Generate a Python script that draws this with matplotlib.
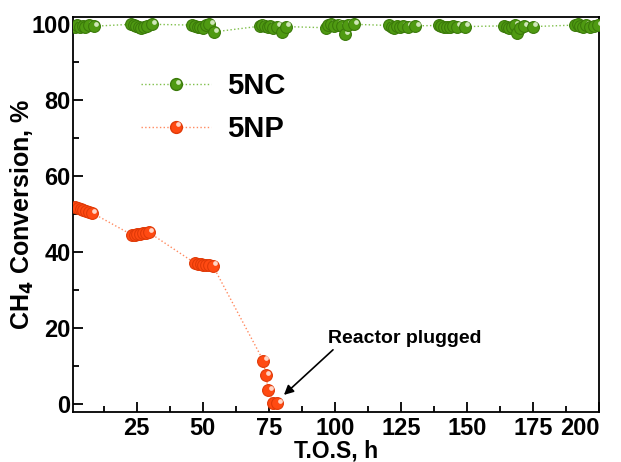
import matplotlib
matplotlib.use("Agg")
import matplotlib.pyplot as plt
from matplotlib.lines import Line2D
from matplotlib.legend_handler import HandlerTuple, HandlerLine2D
import matplotlib.transforms as mtransforms

plt.rcParams['font.family'] = ['Liberation Sans', 'DejaVu Sans']
plt.rcParams['font.weight'] = 'bold'

# 5NC time on stream (h) and CH4 conversion (%)
nc_tos = [1.5, 2.5, 3.5, 4.5, 5.5, 7.0, 8.8,
          22.8, 23.8, 24.8, 25.8, 26.8, 27.8, 29.0, 30.8,
          46.0, 47.0, 48.0, 49.0, 50.0, 51.2, 52.5, 54.2,
          71.5, 72.5, 73.5, 74.5, 75.5, 76.5, 78.0, 80.0, 81.5,
          96.5, 97.5, 98.5, 99.5, 101.0, 102.5, 103.7, 105.0, 107.3,
          120.4, 121.4, 122.4, 123.4, 124.5, 125.8, 127.5, 130.4,
          139.3, 140.3, 141.3, 142.3, 143.4, 144.6, 146.0, 149.3,
          164.0, 165.0, 166.0, 167.0, 168.0, 168.8, 170.0, 171.5, 174.8,
          190.8, 191.8, 192.8, 193.8, 195.0, 196.5, 198.0, 199.5]
nc_conv = [99.3, 99.7, 99.1, 99.5, 99.3, 99.6, 99.4,
           99.9, 99.7, 99.4, 99.2, 99.0, 99.2, 99.5, 99.9,
           99.7, 99.4, 99.1, 99.3, 99.0, 99.6, 100.0, 97.9,
           99.4, 99.8, 99.5, 99.2, 99.4, 99.0, 99.3, 98.0, 99.3,
           99.0, 99.6, 99.9, 99.4, 99.8, 99.5, 97.4, 99.8, 99.9,
           99.6, 99.3, 99.0, 99.4, 99.2, 99.5, 99.3, 99.5,
           99.6, 99.4, 99.3, 99.2, 99.3, 99.4, 99.3, 99.3,
           99.5, 99.2, 98.9, 99.3, 99.6, 97.6, 99.0, 99.4, 99.3,
           99.7, 99.9, 99.4, 99.1, 99.6, 99.3, 99.5, 99.7]

# 5NP time on stream (h) and CH4 conversion (%)
np_tos = [1.8, 2.8, 3.8, 4.8, 5.8, 7.0, 8.1,
          23.2, 24.2, 25.2, 26.2, 27.2, 28.4, 29.5,
          47.2, 48.2, 49.2, 50.2, 51.2, 52.4, 53.8,
          72.9, 73.8, 74.8, 76.7, 78.2]
np_conv = [51.9, 51.6, 51.3, 51.0, 50.8, 50.5, 50.3,
           44.5, 44.6, 44.7, 44.8, 44.9, 45.0, 45.2,
           37.0, 36.9, 36.8, 36.7, 36.6, 36.5, 36.4,
           11.4, 7.6, 3.7, 0.2, 0.2]

x_ticks = [25, 50, 75, 100, 125, 150, 175, 200]
y_ticks = [0, 20, 40, 60, 80, 100]

fig = plt.figure(figsize=(6.21, 4.62), dpi=100)
ax = fig.add_axes([0.118, 0.109, 0.847, 0.854])

MS = 8.5
HI = 3.4
OFF = 1.6  # highlight offset, points


def spheres(xs, ys, face, edge, hi, z0):
    # base ball plus small off-centre highlight, drawn point by point
    off = mtransforms.offset_copy(ax.transData, fig=fig, x=OFF, y=OFF, units='points')
    for i, (x, y) in enumerate(zip(xs, ys)):
        ax.plot(x, y, 'o', ms=MS, mfc=face, mec=edge, mew=0.8, zorder=z0 + 2 * i)
        ax.plot(x, y, 'o', ms=HI, mfc=hi, mec='none', alpha=0.85,
                transform=off, zorder=z0 + 2 * i + 1)


class HighlightHandler(HandlerLine2D):
    def create_artists(self, legend, orig_handle, xdescent, ydescent,
                       width, height, fontsize, trans):
        arts = super().create_artists(legend, orig_handle, xdescent, ydescent,
                                      width, height, fontsize, trans)
        shift = mtransforms.ScaledTranslation(OFF / 72, OFF / 72, legend.figure.dpi_scale_trans)
        for a in arts:
            a.set_transform(trans + shift)
        return arts


green, green_edge, green_line, green_hi = '#4f9a12', '#3b7a0a', '#7fbf4a', '#e8f5d8'
red, red_edge, red_line, red_hi = '#ff4a12', '#e03a08', '#ff8a60', '#fff0e8'

ax.plot(nc_tos, nc_conv, ':', color=green_line, lw=1.0, zorder=2)
ax.plot(np_tos, np_conv, ':', color=red_line, lw=1.0, zorder=2)
spheres(nc_tos, nc_conv, green, green_edge, green_hi, 10)
spheres(np_tos, np_conv, red, red_edge, red_hi, 400)

ax.annotate('Reactor plugged', xy=(80.7, 2.4), xytext=(97.5, 15.0),
            fontsize=14, fontweight='bold', va='bottom', ha='left',
            arrowprops=dict(arrowstyle='-|>', color='black', lw=1.2,
                            mutation_scale=14, shrinkA=0, shrinkB=0,
                            relpos=(0.05, 0.0)))

ax.set_xlim(1, 200)
ax.set_ylim(-2, 101.8)
ax.set_xticks(x_ticks)
ax.set_xticks([t - 12.5 for t in x_ticks], minor=True)
ax.set_yticks(y_ticks)
ax.set_yticks([t + 10 for t in y_ticks[:-1]], minor=True)
ax.tick_params(which='both', direction='in', top=False, right=False, width=1.3,
               labelsize=17)
ax.tick_params(axis='y', pad=2)
ax.tick_params(axis='x', pad=3.5)
ax.tick_params(which='major', length=7)
ax.tick_params(which='minor', length=4.5)
for lab in ax.get_xticklabels() + ax.get_yticklabels():
    lab.set_fontweight('bold')
ax.get_xticklabels()[-1].set_ha('right')
for s in ax.spines.values():
    s.set_linewidth(1.3)

ax.set_xlabel('T.O.S, h', fontsize=16.5, fontweight='bold')
ax.set_ylabel('CH$_4$ Conversion, %', fontsize=18, fontweight='bold')
ax.xaxis.set_label_coords(0.5, -0.071)
ax.yaxis.set_label_coords(-0.071, 0.5)

hi_nc = Line2D([], [], ls='none', marker='o', ms=HI, mfc=green_hi, mec='none', alpha=0.85)
hi_np = Line2D([], [], ls='none', marker='o', ms=HI, mfc=red_hi, mec='none', alpha=0.85)
h_nc = (Line2D([], [], ls=':', color=green_line, lw=1.0, marker='o', ms=MS,
               mfc=green, mec=green_edge), hi_nc)
h_np = (Line2D([], [], ls=':', color=red_line, lw=1.0, marker='o', ms=MS,
               mfc=red, mec=red_edge), hi_np)
ax.legend([h_nc, h_np], ['5NC', '5NP'],
          handler_map={tuple: HandlerTuple(ndivide=1, pad=0),
                       hi_nc: HighlightHandler(), hi_np: HighlightHandler()},
          loc='upper left', bbox_to_anchor=(0.128, 0.86), frameon=False,
          borderpad=0, borderaxespad=0, handlelength=2.4, handletextpad=0.57,
          labelspacing=0.5, prop={'size': 21, 'weight': 'bold'})

fig.savefig('out.png', dpi=100)
